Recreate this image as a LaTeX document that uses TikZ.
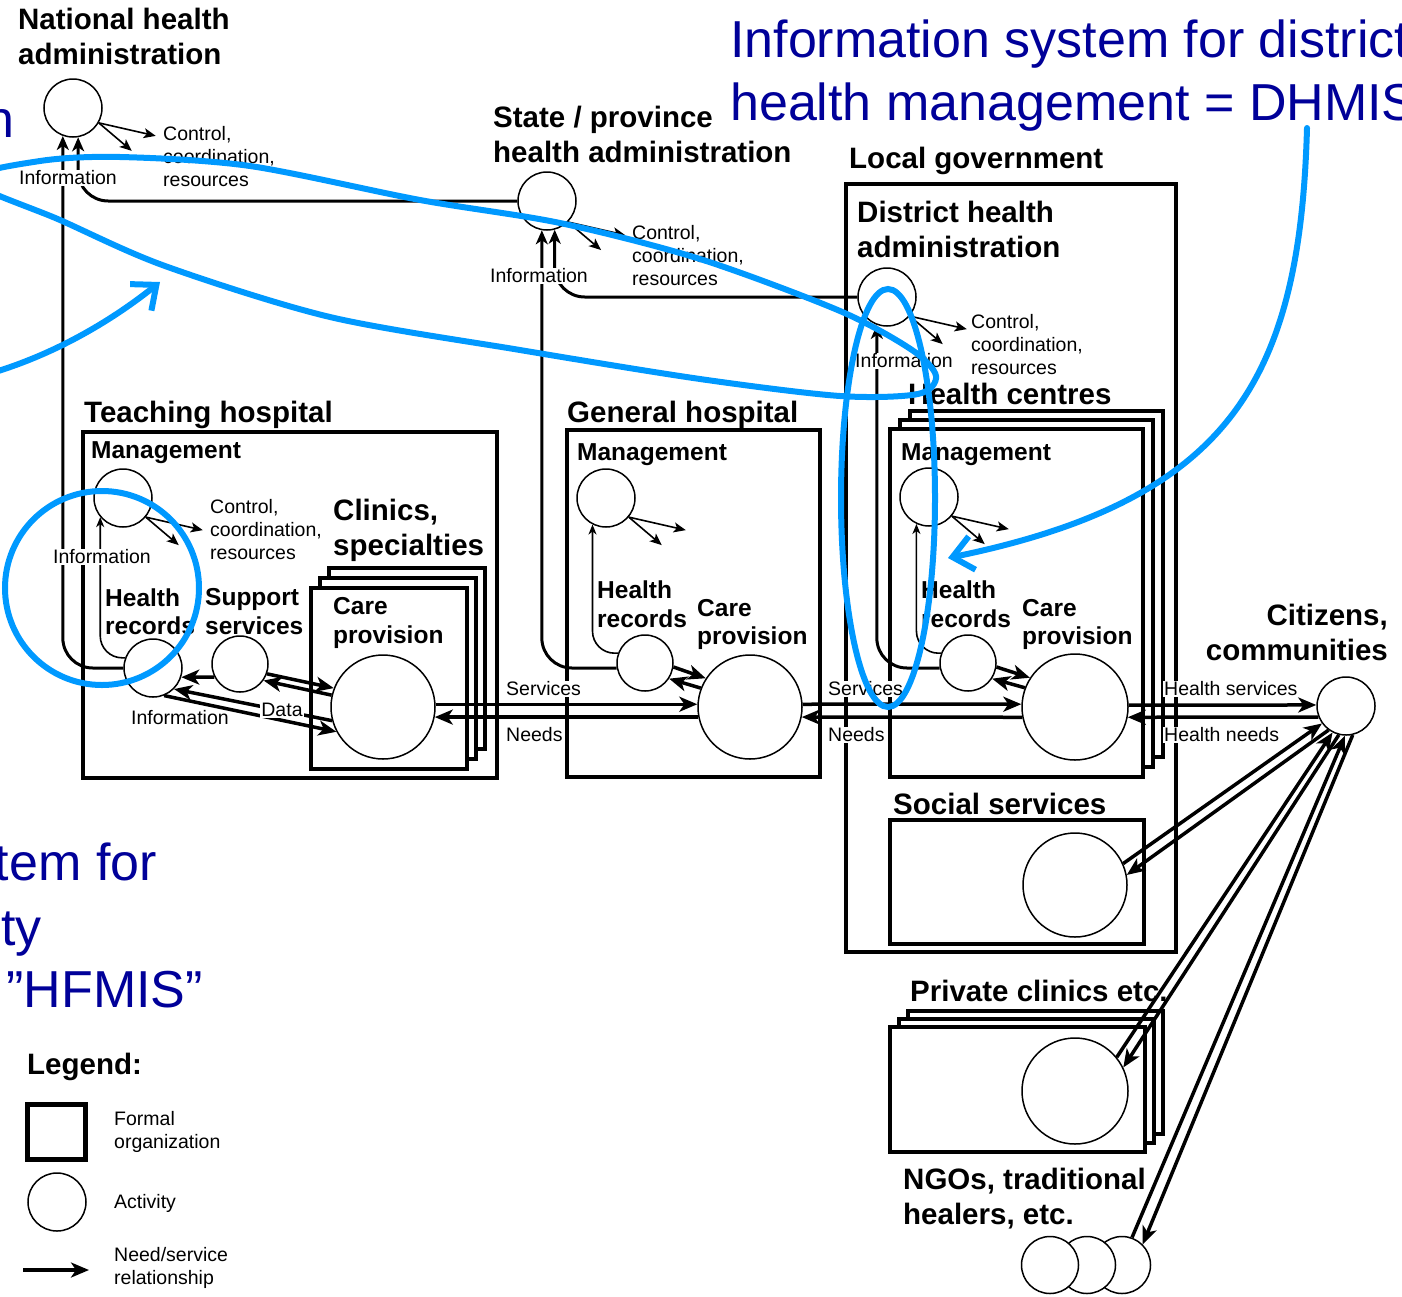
\documentclass[tikz,border=0pt]{standalone}
\usepackage{fontspec}
\setmainfont{Liberation Sans}
\usetikzlibrary{arrows.meta,positioning,calc}

\definecolor{markblue}{RGB}{0,153,255}
\definecolor{titleblue}{RGB}{0,0,153}

\begin{document}
\begin{tikzpicture}[
    x=1pt, y=-1pt,
    activity node/.style={circle,draw,fill=white,line width=1.5pt,inner sep=0pt},
    org box/.style={draw,line width=4.5pt,fill=white},
    head label/.style={font=\fontsize{29.5}{35}\selectfont\bfseries,inner sep=0pt,align=left},
    part label/.style={font=\fontsize{24.5}{28.5}\selectfont\bfseries,inner sep=0pt,align=left},
    small label/.style={font=\fontsize{19.5}{23}\selectfont,inner sep=0pt,align=left},
    gap label/.style={small label,fill=white,inner sep=1pt},
    ctrl arrow/.style={line width=1.6pt,-{Stealth[length=12pt,width=10pt,inset=3pt]}},
    info arrow/.style={line width=1.6pt,-{Stealth[length=10pt,width=8pt,inset=3pt]},rounded corners=22pt},
    info line/.style={line width=3pt,-{Stealth[length=14pt,width=12pt,inset=4pt]},rounded corners=30pt},
    flow arrow/.style={line width=3.5pt,-{Stealth[length=18pt,width=15pt,inset=5pt]}},
    blue mark/.style={draw=markblue,line width=6pt,line cap=round},
    blue arrow/.style={blue mark,-{Straight Barb[length=20pt,width=34pt]}},
    blue title/.style={font=\fontsize{52}{63}\selectfont,text=titleblue,inner sep=0pt,align=left}
]
\useasboundingbox (0,0) rectangle (1402,1296);
\clip (0,0) rectangle (1402,1296);

% Organizations
\draw[org box] (83,432) rectangle (497,778);
\draw[org box] (567,430) rectangle (820,777);
\draw[org box] (846,184) rectangle (1176,952);
\draw[org box] (890,820) rectangle (1144,944);
\foreach \d in {2,1,0}
  \draw[org box] ({311+9*\d},{588-10*\d}) rectangle ({467+9*\d},{769-10*\d});
\foreach \d in {2,1,0}
  \draw[org box] ({890+10*\d},{429-9*\d}) rectangle ({1143+10*\d},{777-10*\d});
\foreach \d in {2,1,0}
  \draw[org box] ({890+9*\d},{1027-8*\d}) rectangle ({1145+9*\d},{1152-9*\d});

% Administrations
\node[activity node, minimum size=58pt] (national) at (73,108) {};
\node[activity node, minimum size=58pt] (state) at (547,201) {};
\node[activity node, minimum size=58pt] (district) at (887,297) {};

% Teaching hospital
\node[activity node, minimum size=58pt] (th_mgmt) at (123,498) {};
\node[activity node, minimum size=58pt] (th_hr) at (153,668) {};
\node[activity node, minimum size=56pt] (th_sup) at (240,664) {};
\node[activity node, minimum size=104pt] (th_care) at (383,707) {};

% General hospital
\node[activity node, minimum size=58pt] (gh_mgmt) at (606,498) {};
\node[activity node, minimum size=56pt] (gh_hr) at (645,663) {};
\node[activity node, minimum size=104pt] (gh_care) at (750,707) {};

% Health centres
\node[activity node, minimum size=58pt] (hc_mgmt) at (929,497) {};
\node[activity node, minimum size=56pt] (hc_hr) at (968,663) {};
\node[activity node, minimum size=106pt] (hc_care) at (1075,707) {};

% Others
\node[activity node, minimum size=58pt] (citizens) at (1346,706) {};
\node[activity node, minimum size=104pt] (soc_care) at (1075,885) {};
\node[activity node, minimum size=106pt] (pc_care) at (1075,1091) {};
\node[activity node, minimum size=57pt] (ngo3) at (1122,1265) {};
\node[activity node, minimum size=57pt] (ngo2) at (1087,1265) {};
\node[activity node, minimum size=57pt] (ngo1) at (1050,1265) {};

% Information upwards
\draw[info line] (th_hr.west) -| (national.-110);
\draw[info line] (state.west) -| (national.-80);
\draw[info line] (gh_hr.190) -| (state.-100);
\draw[info line] (district.west) -| (state.-75);
\draw[info line] (hc_hr.190) -| (district.-110);
\draw[info arrow] (th_hr.160) -| (th_mgmt.-140);
\draw[info arrow] (gh_hr.160) -| (gh_mgmt.-117);
\draw[info arrow] (hc_hr.160) -| (hc_mgmt.-115);

% Control, coordination, resources
\foreach \nd/\ang in {national/-30,state/-45,district/-40,th_mgmt/-40,gh_mgmt/-40,hc_mgmt/-40} {
  \draw[ctrl arrow] (\nd.\ang) -- ++(57,13);
  \draw[ctrl arrow] (\nd.\ang) -- ++(33,28);
}

% Needs and services
\draw[flow arrow] (th_sup.207) -- (th_hr.-18);
\draw[flow arrow] (th_sup.-20) -- (th_care.159);
\draw[flow arrow] (th_care.167) -- (th_sup.-35);
\draw[flow arrow] (th_hr.-68) -- (th_care.-152);
\draw[flow arrow] (th_care.195) -- (th_hr.-45);
\draw[flow arrow] (gh_hr.-8) -- (gh_care.147);
\draw[flow arrow] (gh_care.159) -- (gh_hr.-33);
\draw[flow arrow] (hc_hr.-8) -- (hc_care.147);
\draw[flow arrow] (hc_care.159) -- (hc_hr.-33);
\draw[flow arrow] (th_care.3) -- (gh_care.177);
\draw[flow arrow] (gh_care.-169) -- (th_care.-11);
\draw[flow arrow] (gh_care.3) -- (hc_care.177);
\draw[flow arrow] (hc_care.-169) -- (gh_care.-11);
\draw[flow arrow] (hc_care.2) -- (citizens.178);
\draw[flow arrow] (citizens.-158) -- (hc_care.-11);
\draw[flow arrow] (soc_care.24) -- (citizens.-144);
\draw[flow arrow] (citizens.-126) -- (soc_care.11);
\draw[flow arrow] (pc_care.39) -- (citizens.-117);
\draw[flow arrow] (citizens.-104) -- (pc_care.26);
\draw[flow arrow] (ngo3.70) -- (citizens.-92);
\draw[flow arrow] (citizens.-77) -- (ngo3.45);

% Titles
\node[head label, anchor=west] (nat_title) at (18,36) {National health\\administration};
\node[head label, anchor=west] (state_title) at (493,134) {State / province\\health administration};
\node[head label, anchor=west] (local_title) at (849,161) {Local government};
\node[head label, anchor=west] (dist_title) at (857,229.5) {District health\\administration};
\node[head label, anchor=west] (hc_title) at (908,394) {Health centres};
\node[head label, anchor=west] (th_title) at (84,415) {Teaching hospital};
\node[head label, anchor=west] (gh_title) at (567,415) {General hospital};
\node[head label, anchor=west] (cl_title) at (333,530) {Clinics,\\specialties};
\node[head label, anchor=east, align=right] (cit_title) at (1388,632) {Citizens,\\communities};
\node[head label, anchor=west] (soc_title) at (893,804) {Social services};
\node[head label, anchor=west] (pc_title) at (910,991) {Private clinics etc.};
\node[head label, anchor=west] (ngo_title) at (903,1199) {NGOs, traditional\\healers, etc.};

% Activity labels
\node[part label, anchor=west] (th_mgmt_l) at (91,453) {Management};
\node[part label, anchor=west] (gh_mgmt_l) at (577,455) {Management};
\node[part label, anchor=west] (hc_mgmt_l) at (901,455) {Management};
\node[part label, anchor=west] (th_hr_l) at (105,611.5) {Health\\records};
\node[part label, anchor=west] (th_sup_l) at (205,611.5) {Support\\services};
\node[part label, anchor=west] (th_care_l) at (333,623) {Care\\provision};
\node[part label, anchor=west] (gh_hr_l) at (597,604) {Health\\records};
\node[part label, anchor=west] (gh_care_l) at (697,624.5) {Care\\provision};
\node[part label, anchor=west] (hc_hr_l) at (921,604) {Health\\records};
\node[part label, anchor=west] (hc_care_l) at (1022,624.5) {Care\\provision};

% Small labels
\node[small label, anchor=west] (nat_ctrl) at (163,157) {Control,\\coordination,\\resources};
\node[small label, anchor=west] (state_ctrl) at (632,255.5) {Control,\\coordination,\\resources};
\node[small label, anchor=west] (dist_ctrl) at (971,344.5) {Control,\\coordination,\\resources};
\node[small label, anchor=west] (th_ctrl) at (210,530) {Control,\\coordination,\\resources};
\node[gap label] (nat_info) at (68,178) {Information};
\node[gap label] (state_info) at (539,276) {Information};
\node[gap label] (dist_info) at (904,361) {Information};
\node[gap label] (th_info) at (102,557) {Information};
\node[small label, anchor=west] (th_info2) at (131,718) {Information};
\node[gap label] (th_data) at (282,710) {Data};
\node[gap label, anchor=west] (th_serv) at (505,689) {Services};
\node[gap label, anchor=west] (th_need) at (505,735) {Needs};
\node[gap label, anchor=west] (gh_serv) at (827,689) {Services};
\node[gap label, anchor=west] (gh_need) at (827,735) {Needs};
\node[gap label, anchor=west] (cit_serv) at (1163,689) {Health services};
\node[gap label, anchor=west] (cit_need) at (1163,735) {Health needs};

% Legend
\node[head label, anchor=west] (lg_title) at (27,1067) {Legend:};
\node[org box, line width=5pt, minimum width=58pt, minimum height=55pt, inner sep=0pt] (lg_box) at (56,1132) {};
\node[activity node, minimum size=58pt] (lg_act) at (57,1202) {};
\coordinate (lg_from) at (23,1270);
\coordinate (lg_to) at (89,1270);
\draw[flow arrow] (lg_from) -- (lg_to);
\node[small label, anchor=west] (lg_box_l) at (114,1131.5) {Formal\\organization};
\node[small label, anchor=west] (lg_act_l) at (114,1203) {Activity};
\node[small label, anchor=west] (lg_arr_l) at (114,1268) {Need/service\\relationship};

% Information systems
\node[blue title, anchor=west] (dhmis) at (730,76) {Information system for district\\health management = DHMIS};
\node[blue title, anchor=base east] (hf0) at (15,137) {n};
\node[blue title, anchor=base east] (hf1) at (157,880) {tem for};
\node[blue title, anchor=base east] (hf2) at (42,945) {ty};
\node[blue title, anchor=base east] (hf3) at (203,1007) {”HFMIS”};

\draw[blue mark] plot[smooth cycle] coordinates {(-30,180) (40,161) (120,157) (250,166) (420,200) (560,223) (700,259) (840,311) (912,350) (936,376) (918,394) (840,396) (700,379) (520,350) (330,317) (165,266) (60,220)};
\draw[blue mark] (888,498) ellipse [x radius=47, y radius=209];
\draw[blue mark] (102,588) circle [radius=97];
\coordinate (hf_from) at (-5,372);
\coordinate (hf_to) at (160,282);
\draw[blue arrow] (hf_from) .. controls (60,352) and (115,318) .. (hf_to);
\coordinate (dh_from) at (1307,128);
\coordinate (dh_to) at (948,558);
\draw[blue arrow] (dh_from) .. controls (1300,380) and (1230,500) .. (dh_to);

\end{tikzpicture}
\end{document}
